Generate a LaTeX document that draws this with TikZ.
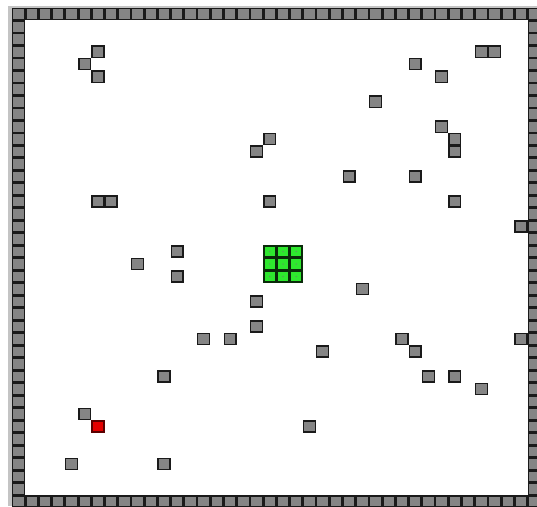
\documentclass[tikz,border=0pt]{standalone}
\definecolor{wallfill}{HTML}{858585}
\definecolor{wallline}{HTML}{1A1A1A}
\definecolor{panel}{HTML}{C4C4C4}
\definecolor{snakefill}{HTML}{2EE82E}
\definecolor{snakeline}{HTML}{0A2A0A}
\definecolor{foodfill}{HTML}{E30000}
\definecolor{foodline}{HTML}{5A0000}
\tikzset{
  wall/.style={fill=wallfill,draw=wallline,line width=1.4pt},
  snake/.style={fill=snakefill,draw=snakeline,line width=1.4pt},
  food/.style={fill=foodfill,draw=foodline,line width=1.4pt}
}
\newcommand\gcell[3]{%
  \path[#3] ({12+13.22*#1+0.7},{8+12.49*#2+0.7}) rectangle ({12+13.22*(#1+1)-0.7},{8+12.49*(#2+1)-0.7});}
\begin{document}
\begin{tikzpicture}[x=1pt,y=-1pt]
\useasboundingbox (0,0) rectangle (537,506);
\fill[white] (0,0) rectangle (537,506);
\fill[panel] (8,6) rectangle (537,506);
\fill[white] (24,20) rectangle (528,496);
% border walls
\foreach \i in {0,...,39} {
  \gcell{\i}{0}{wall}
  \gcell{\i}{39}{wall}
  \gcell{0}{\i}{wall}
  \gcell{39}{\i}{wall}
}
% obstacles
\foreach \c/\r in {6/3,5/4,6/5,35/3,36/3,30/4,32/5,27/7,32/9,33/10,33/11,19/10,18/11,
  25/13,30/13,6/15,7/15,19/15,33/15,38/17,12/19,9/20,12/21,26/22,18/23,18/25,
  14/26,16/26,23/27,29/26,30/27,38/26,11/29,31/29,33/29,35/30,5/32,22/33,4/36,11/36} {
  \gcell{\c}{\r}{wall}
}
% snake
\foreach \c in {19,20,21} {
  \foreach \r in {19,20,21} {
    \gcell{\c}{\r}{snake}
    \fill[snakeline!60] ({12+13.22*(\c+0.5)},{8+12.49*(\r+0.5)}) circle (0.7);
  }
}
% food
\gcell{6}{33}{food}
\end{tikzpicture}
\end{document}
